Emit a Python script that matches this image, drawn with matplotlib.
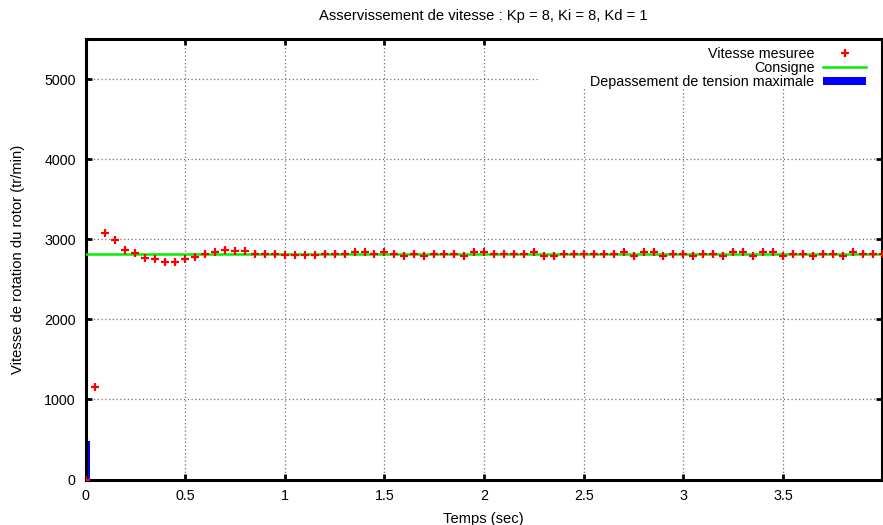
import matplotlib
matplotlib.use("Agg")
import matplotlib.pyplot as plt
from matplotlib.patches import Patch, Rectangle
from matplotlib.lines import Line2D

plt.rcParams['font.family'] = ['Liberation Sans', 'DejaVu Sans']

# Sampling instants (s)
temps = [0.00, 0.05, 0.10, 0.15, 0.20, 0.25, 0.30, 0.35, 0.40, 0.45,
         0.50, 0.55, 0.60, 0.65, 0.70, 0.75, 0.80, 0.85, 0.90, 0.95,
         1.00, 1.05, 1.10, 1.15, 1.20, 1.25, 1.30, 1.35, 1.40, 1.45,
         1.50, 1.55, 1.60, 1.65, 1.70, 1.75, 1.80, 1.85, 1.90, 1.95,
         2.00, 2.05, 2.10, 2.15, 2.20, 2.25, 2.30, 2.35, 2.40, 2.45,
         2.50, 2.55, 2.60, 2.65, 2.70, 2.75, 2.80, 2.85, 2.90, 2.95,
         3.00, 3.05, 3.10, 3.15, 3.20, 3.25, 3.30, 3.35, 3.40, 3.45,
         3.50, 3.55, 3.60, 3.65, 3.70, 3.75, 3.80, 3.85, 3.90, 3.95,
         4.00]

# Measured rotor speed (tr/min)
vitesse = [0, 1160, 3080, 2985, 2870, 2830, 2765, 2755, 2720, 2720,
           2755, 2780, 2815, 2838, 2870, 2855, 2855, 2815, 2815, 2815,
           2800, 2800, 2800, 2800, 2815, 2815, 2815, 2840, 2840, 2815,
           2840, 2815, 2790, 2815, 2790, 2815, 2815, 2815, 2790, 2840,
           2840, 2815, 2815, 2815, 2815, 2835, 2790, 2790, 2815, 2815,
           2815, 2815, 2815, 2815, 2840, 2790, 2835, 2835, 2790, 2815,
           2815, 2790, 2815, 2815, 2790, 2840, 2840, 2790, 2840, 2840,
           2790, 2815, 2815, 2790, 2815, 2815, 2790, 2840, 2815, 2815,
           2815]

# Speed set point (tr/min)
consigne = 2815

# Maximum voltage overshoot events: time (s) and bar height
depassement_t = [0.0]
depassement_h = [475]
largeur_boite = 0.05

x_ticks = [0, 0.5, 1, 1.5, 2, 2.5, 3, 3.5]
x_tick_labels = ["0", "0.5", "1", "1.5", "2", "2.5", "3", "3.5"]
y_ticks = [0, 1000, 2000, 3000, 4000, 5000]
y_tick_labels = ["0", "1000", "2000", "3000", "4000", "5000"]

W, H = 883, 525
fig = plt.figure(figsize=(W / 100, H / 100), dpi=100)
ax_left, ax_bottom, ax_w, ax_h = 85.5, H - 479.5, 796.0, 440.5
ax = fig.add_axes([ax_left / W, ax_bottom / H, ax_w / W, ax_h / H])

ax.bar(depassement_t, depassement_h, width=largeur_boite, color='#0000ff',
       linewidth=0, zorder=2)
ax.plot(temps, [consigne] * len(temps), color='#00ee00', lw=1.8, zorder=3)
ax.plot(temps, vitesse, linestyle='none', marker='+', color='#ff0000',
        markersize=6, markeredgewidth=1.6, zorder=4)

ax.set_xlim(0, 3.994)
ax.set_ylim(0, 5500)
ax.set_xticks(x_ticks)
ax.set_xticklabels(x_tick_labels)
ax.set_yticks(y_ticks)
ax.set_yticklabels(y_tick_labels)

ax.set_axisbelow(True)
ax.grid(True, color='#707070', linestyle=(0, (1, 2)), linewidth=0.9)
ax.tick_params(direction='in', length=4, width=2, top=True, right=True,
               labelsize=10.3, pad=7, colors='black')
for s in ax.spines.values():
    s.set_linewidth(2.2)

ax.set_title("Asservissement de vitesse : Kp = 8, Ki = 8, Kd = 1",
             fontsize=10.6, pad=14)
ax.set_xlabel("Temps (sec)", fontsize=10.6, labelpad=6)
ax.set_ylabel("Vitesse de rotation du rotor (tr/min)", fontsize=10.6,
              labelpad=0)
ax.yaxis.set_label_coords(-60.5 / ax_w, 0.5)

# White key area (pixel box converted to axes fraction)
kx0, kx1 = 540.0, 881.5
ky0, ky1 = 39.0, 89.0
ax.add_patch(Rectangle(((kx0 - ax_left) / ax_w, (479.5 - ky1) / ax_h),
                       (kx1 - kx0) / ax_w, (ky1 - ky0) / ax_h,
                       transform=ax.transAxes, facecolor='white',
                       edgecolor='none', zorder=1.5))

handles = [
    Line2D([], [], linestyle='none', marker='+', color='#ff0000',
           markersize=6, markeredgewidth=1.6),
    Line2D([], [], color='#00ee00', lw=1.8),
    Patch(facecolor='#0000ff', edgecolor='none'),
]
labels = ["Vitesse mesuree", "Consigne", "Depassement de tension maximale"]
leg = ax.legend(handles, labels, loc='upper right', markerfirst=False,
                fontsize=10.3, frameon=False, handlelength=3.0,
                handleheight=0.55, handletextpad=0.6, labelspacing=0.0,
                borderpad=0.0, borderaxespad=0.0,
                bbox_to_anchor=((866.0 - ax_left) / ax_w, (479.5 - 47.0) / ax_h))
for t in leg.get_texts():
    t.set_ha('right')

fig.savefig("out.png", dpi=100)
